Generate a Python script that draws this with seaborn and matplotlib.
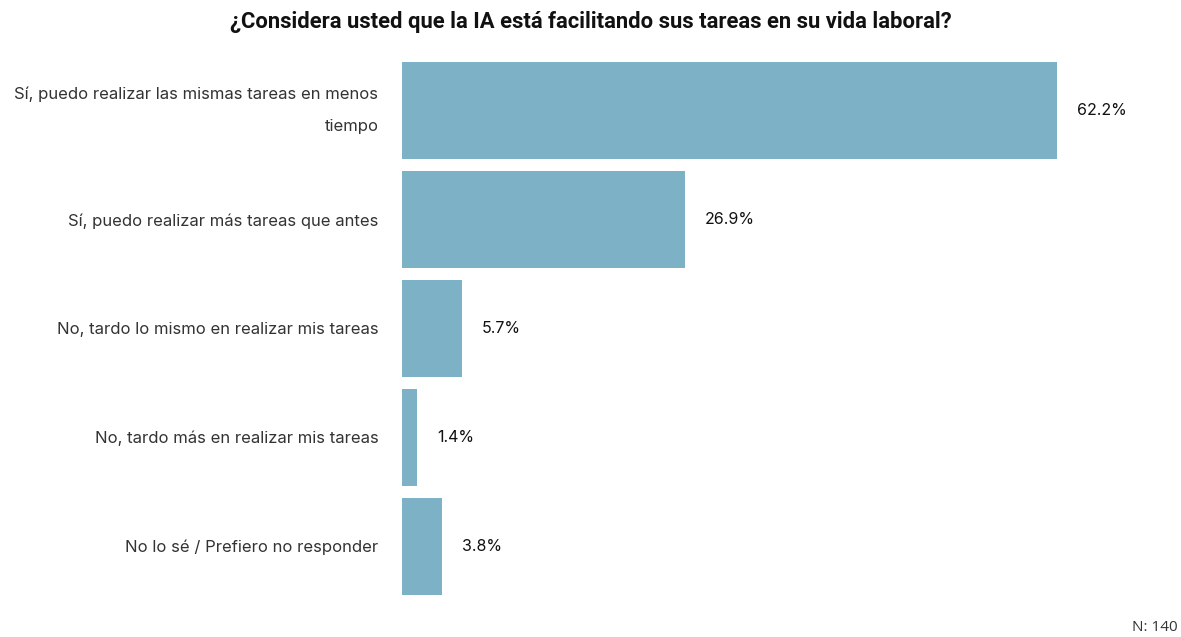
import matplotlib
matplotlib.use("Agg")
import matplotlib.pyplot as plt
import seaborn as sns
import pandas as pd

categories = [
    "Sí, puedo realizar las mismas tareas en menos\ntiempo",
    "Sí, puedo realizar más tareas que antes",
    "No, tardo lo mismo en realizar mis tareas",
    "No, tardo más en realizar mis tareas",
    "No lo sé / Prefiero no responder",
]
values = [62.2, 26.9, 5.7, 1.4, 3.8]
title = "¿Considera usted que la IA está facilitando sus tareas en su vida laboral?"
note = "N: 140"

df = pd.DataFrame({"respuesta": categories, "pct": values})

sns.set_theme(style="white")
plt.rcParams["font.family"] = ["Inter", "DejaVu Sans"]

fig = plt.figure(figsize=(11.81, 6.37), dpi=100)
ax = fig.add_axes([0.3404, 0.0573, 0.6596, 0.8549])

sns.barplot(data=df, x="pct", y="respuesta", color="#7cb1c6", width=0.89,
            saturation=1, linewidth=0, ax=ax)

ax.set_xlim(0, 74)
ax.set_ylim(4.5, -0.5)
ax.set_xlabel("")
ax.set_ylabel("")
ax.set_xticks([])
for s in ax.spines.values():
    s.set_visible(False)
ax.tick_params(axis="y", length=0, pad=17)
for lbl in ax.get_yticklabels():
    lbl.set_fontsize(12)
    lbl.set_color("#333333")
    lbl.set_linespacing(2.4)
    if "\n" in lbl.get_text():
        lbl.set_va("center")

for i, v in enumerate(values):
    ax.annotate(f"{v:.1f}%", xy=(v, i), xytext=(20, 0), textcoords="offset pixels",
                ha="left", va="center", fontsize=11.5, color="#111111")

fig.text(0.5, 0.965, title, ha="center", va="center", fontsize=15.8,
         fontweight="bold", family=["Roboto", "DejaVu Sans"], color="#111111")
fig.text(0.997, 0.003, note, ha="right", va="bottom", fontsize=11,
         family=["Open Sans", "DejaVu Sans"], color="#333333")

fig.savefig("out.png", dpi=100)
